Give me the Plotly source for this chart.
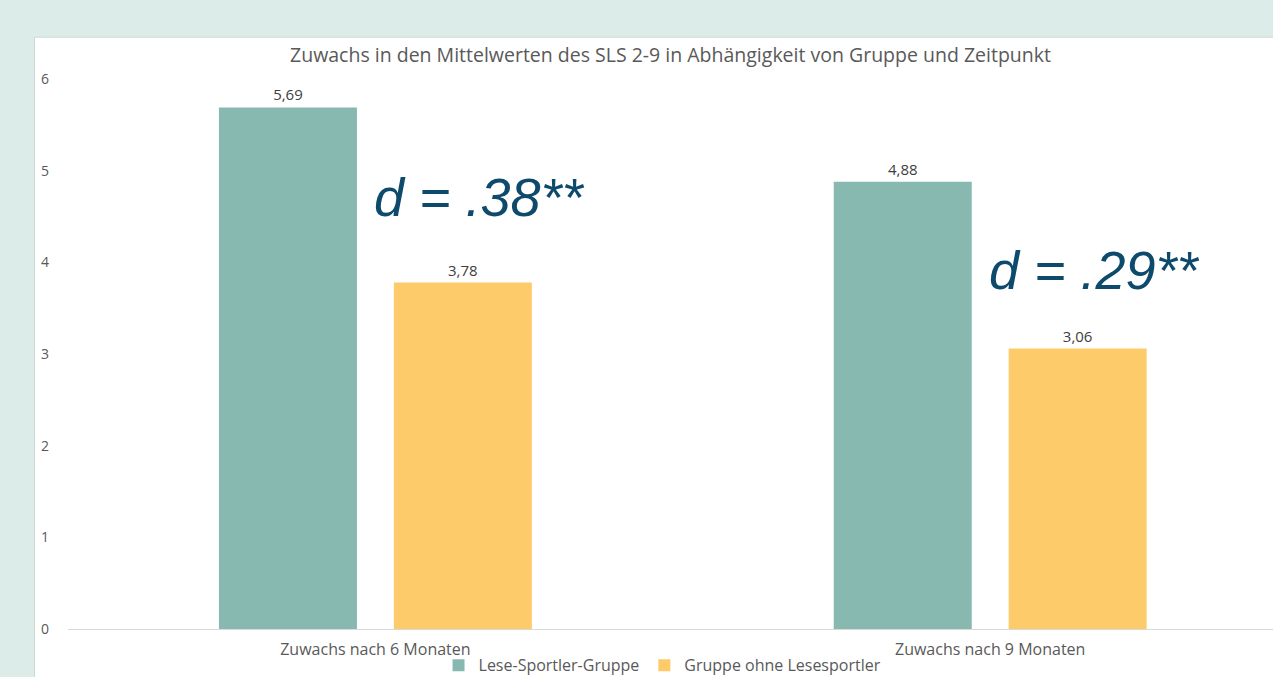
import plotly.graph_objects as go

categories = ["Zuwachs nach 6 Monaten", "Zuwachs nach 9 Monaten"]
series_names = ["Lese-Sportler-Gruppe", "Gruppe ohne Lesesportler"]
lese_sportler = [5.69, 4.88]
ohne_lesesportler = [3.78, 3.06]
effect_labels = ["d = .38**", "d = .29**"]
title_text = "Zuwachs in den Mittelwerten des SLS 2-9 in Abhängigkeit von Gruppe und Zeitpunkt"
y_ticks = [0, 1, 2, 3, 4, 5, 6]

TEAL = "#88b9b0"
YELLOW = "#fdcb69"
GRAY = "#595959"
FONT = "Open Sans"

fig = go.Figure()
for name, vals, col in [(series_names[0], lese_sportler, TEAL),
                        (series_names[1], ohne_lesesportler, YELLOW)]:
    fig.add_trace(go.Bar(
        x=[0, 1], y=vals, name=name, marker=dict(color=col, line=dict(width=0)),
        text=[f"{v:.2f}".replace(".", ",") for v in vals],
        textposition="outside", cliponaxis=False,
        textfont=dict(family=FONT, size=15, color="#404040"),
    ))

# white panel behind chart
fig.add_shape(type="rect", xref="paper", yref="paper", x0=-0.0278, x1=1.01,
              y0=-0.2, y1=1.076, fillcolor="white",
              line=dict(color="#d0d8d6", width=1), layer="below")

for i, lab in enumerate(effect_labels):
    yv = [4.71, 3.92][i]
    fig.add_annotation(x=i + 0.169, y=yv, xref="x", yref="y", text=f"<i>{lab}</i>",
                       showarrow=False,
                       font=dict(family="Liberation Sans, Arial", size=54, color="#0d4a6c"))

fig.update_layout(
    width=1273, height=677,
    paper_bgcolor="#dcede9", plot_bgcolor="white",
    margin=dict(l=67.5, r=0, t=79, b=48, autoexpand=False),
    barmode="group", bargap=0.431, bargroupgap=0.211,
    separators=",.",
    font=dict(family=FONT, color=GRAY),
    title=dict(text=title_text, x=0.5, xref="paper", xanchor="center",
               y=1 - 55 / 677, yanchor="middle",
               font=dict(family=FONT, size=19.5, color=GRAY)),
    showlegend=True,
    legend=dict(orientation="h", x=0.3075, xanchor="left", y=-0.066, yanchor="middle",
                font=dict(family=FONT, size=16, color=GRAY), bgcolor="rgba(0,0,0,0)",
                traceorder="normal", itemwidth=30),
    xaxis=dict(range=[-0.5, 1.46], tickvals=[0, 1], ticktext=categories,
               showgrid=False, zeroline=False, showline=True, linecolor="#d9d9d9",
               linewidth=1, ticks="", ticklabelstandoff=6,
               tickfont=dict(family=FONT, size=16, color=GRAY)),
    yaxis=dict(range=[0, 6], tickvals=y_ticks, showgrid=False, zeroline=False,
               showline=False, ticks="", ticklabelstandoff=18,
               tickfont=dict(family=FONT, size=14, color=GRAY)),
)

fig.write_html("out.html", config={"displayModeBar": False},
               post_script="document.body.style.margin='0px';")
